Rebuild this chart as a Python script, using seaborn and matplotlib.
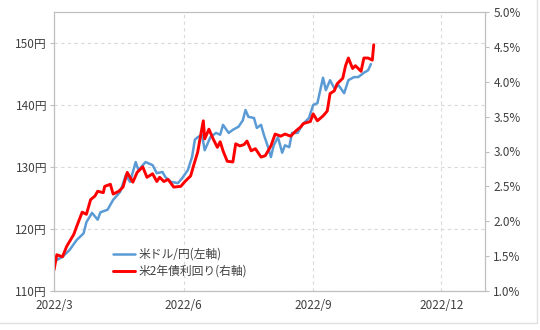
import matplotlib
matplotlib.use("Agg")
import matplotlib.pyplot as plt
import matplotlib.dates as mdates
from matplotlib.patches import Rectangle
import seaborn as sns
import pandas as pd
import numpy as np

# ---- data ----
start = pd.Timestamp("2022-03-01")

usdjpy_day = [2, 6, 11, 16, 21, 23, 27, 31, 33, 38, 42, 47, 51, 54, 58, 60, 65, 70, 73, 77,
              79, 83, 88, 91, 95, 98, 100, 102, 105, 107, 111, 115, 118, 120, 124, 127, 131,
              134, 136, 138, 142, 144, 147, 149, 152, 154, 156, 159, 162, 164, 167, 169, 173,
              175, 177, 181, 184, 187, 191, 193, 196, 199, 202, 206, 209, 213, 216, 220, 223, 225]
usdjpy_val = [115.0, 115.5, 116.6, 118.2, 119.3, 121.1, 122.6, 121.5, 122.7, 123.1, 124.7, 126.0,
              128.7, 127.6, 130.8, 129.5, 130.8, 130.3, 129.0, 129.2, 128.4, 127.6, 127.4, 128.2,
              129.5, 131.6, 134.4, 134.8, 135.2, 132.7, 134.8, 135.5, 135.2, 136.8, 135.5, 136.0,
              136.5, 137.5, 139.2, 138.1, 137.9, 136.3, 136.8, 135.2, 133.2, 131.6, 133.5, 134.8,
              132.3, 133.5, 133.2, 135.5, 135.5, 136.3, 137.0, 137.9, 140.0, 140.3, 144.4, 142.4,
              144.0, 142.7, 143.2, 141.9, 144.0, 144.5, 144.5, 145.2, 145.6, 146.6]

yield_day = [0, 2, 6, 9, 14, 16, 20, 23, 26, 29, 31, 35, 36, 40, 42, 46, 49, 52, 56, 59, 63, 66,
             70, 73, 75, 78, 81, 85, 90, 93, 97, 99, 102, 104, 106, 107, 110, 113, 116, 118, 120,
             123, 127, 129, 132, 135, 137, 140, 143, 147, 150, 154, 157, 161, 164, 168, 172, 175,
             177, 182, 184, 187, 191, 194, 196, 199, 201, 205, 207, 209, 212, 214, 218, 220, 223,
             226, 227]
yield_val = [1.30, 1.52, 1.49, 1.64, 1.81, 1.92, 2.13, 2.10, 2.31, 2.36, 2.43, 2.41, 2.50, 2.53,
             2.39, 2.43, 2.49, 2.70, 2.56, 2.70, 2.78, 2.63, 2.68, 2.57, 2.63, 2.57, 2.60, 2.49,
             2.50, 2.57, 2.65, 2.79, 2.99, 3.22, 3.44, 3.18, 3.32, 3.18, 3.06, 3.14, 3.01, 2.86,
             2.85, 3.11, 3.08, 3.10, 3.15, 3.01, 3.04, 2.92, 2.94, 3.08, 3.25, 3.22, 3.25, 3.22,
             3.30, 3.35, 3.40, 3.43, 3.54, 3.44, 3.51, 3.58, 3.83, 3.87, 3.97, 4.05, 4.23, 4.34,
             4.19, 4.23, 4.15, 4.34, 4.34, 4.31, 4.53]

label_usdjpy = "米ドル/円(左軸)"
label_yield = "米2年債利回り(右軸)"
x_ticks = ["2022-03-01", "2022-06-01", "2022-09-01", "2022-12-01"]
x_tick_labels = ["2022/3", "2022/6", "2022/9", "2022/12"]
left_ticks = [110, 120, 130, 140, 150]
right_ticks = [1.0, 1.5, 2.0, 2.5, 3.0, 3.5, 4.0, 4.5, 5.0]

df_fx = pd.DataFrame({"date": start + pd.to_timedelta(usdjpy_day, unit="D"), "value": usdjpy_val})
df_y = pd.DataFrame({"date": start + pd.to_timedelta(yield_day, unit="D"), "value": yield_val})

# ---- style ----
sns.set_theme(style="white")
plt.rcParams["font.family"] = ["Noto Sans CJK JP", "DejaVu Sans"]

grid_c = "#D9D9D9"
spine_c = "#BFBFBF"
text_c = "#404040"
blue = "#5B9BD5"
red = "#FF0000"

fig = plt.figure(figsize=(5.4, 3.3), dpi=100)
fig.patch.set_facecolor("white")
ax = fig.add_axes([54 / 540, 1 - 291 / 330, (485 - 54) / 540, (291 - 12) / 330])
ax2 = ax.twinx()

sns.lineplot(data=df_fx, x="date", y="value", ax=ax, color=blue, linewidth=1.8, label=label_usdjpy, legend=False)
sns.lineplot(data=df_y, x="date", y="value", ax=ax2, color=red, linewidth=2.1, label=label_yield, legend=False)

ax.set_xlim(pd.Timestamp("2022-03-01"), pd.Timestamp("2023-01-01"))
ax.set_ylim(110, 155)
ax2.set_ylim(1.0, 5.0)

ax.set_xticks(pd.to_datetime(x_ticks))
ax.set_xticklabels(x_tick_labels)
ax.set_yticks(left_ticks)
ax.set_yticklabels([f"{v}円" for v in left_ticks])
ax2.set_yticks(right_ticks)
ax2.set_yticklabels([f"{v:.1f}%" for v in right_ticks])

ax.set_xlabel("")
ax.set_ylabel("")
ax2.set_ylabel("")

ax.grid(True, axis="both", color=grid_c, linestyle=(0, (3, 3)), linewidth=0.8)
ax2.grid(False)
ax.set_axisbelow(True)

for a in (ax, ax2):
    for s in a.spines.values():
        s.set_color(spine_c)
        s.set_linewidth(0.8)
        s.set_visible(True)

ax.tick_params(axis="both", which="both", length=3, width=0.8, color=spine_c,
               labelsize=8.5, labelcolor=text_c, pad=2, direction="out")
ax.tick_params(axis="x", pad=3)
ax2.tick_params(axis="y", length=3, width=0.8, color=spine_c, labelsize=8.5,
                labelcolor=text_c, pad=3, direction="out")

h1, l1 = ax.get_legend_handles_labels()
h2, l2 = ax2.get_legend_handles_labels()
leg = ax2.legend(h1 + h2, l1 + l2, loc="lower left", bbox_to_anchor=(0.125, 0.03),
                 frameon=False, fontsize=8.5, handlelength=1.9, handletextpad=0.3,
                 labelspacing=0.35, borderaxespad=0)
for t in leg.get_texts():
    t.set_color(text_c)

# outer frame (bottom/right border seen in reference)
fig.add_artist(Rectangle((-0.01, 7 / 330), 537 / 540 + 0.01, 1.0, transform=fig.transFigure,
                         fill=False, edgecolor="#E0E0E0", linewidth=1.0))

fig.savefig("out.png", dpi=100, facecolor="white")
